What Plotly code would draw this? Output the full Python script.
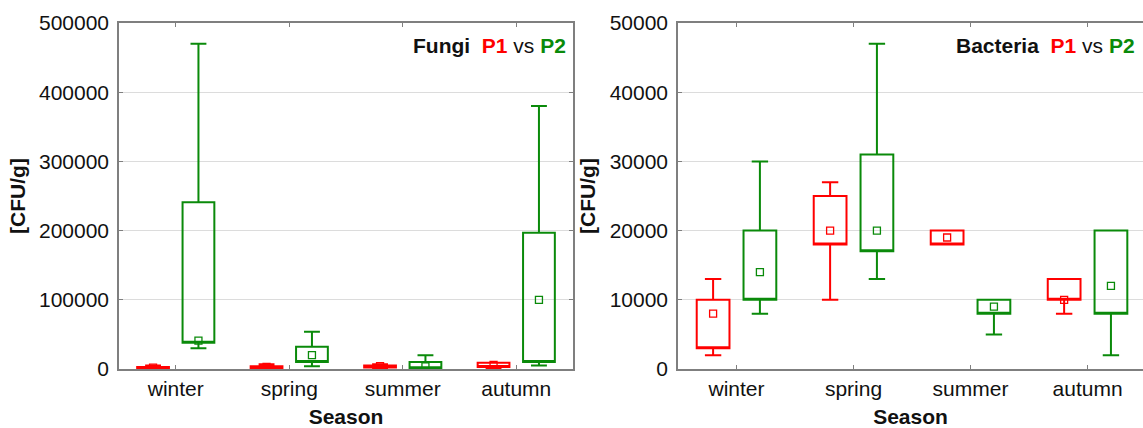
import plotly.graph_objects as go

seasons = ["winter", "spring", "summer", "autumn"]

# Fungi  (lower whisker, Q1, Q3, upper whisker, mean)
fungi_p1_low = [0, 0, 1000, 1000]
fungi_p1_q1 = [500, 1000, 2000, 3000]
fungi_p1_q3 = [3000, 4000, 5000, 9000]
fungi_p1_high = [5000, 7000, 7000, 9000]
fungi_p1_mean = [2000, 3000, 4000, 6000]

fungi_p2_low = [30000, 4000, 0, 5000]
fungi_p2_q1 = [38000, 10000, 1000, 10000]
fungi_p2_q3 = [241000, 32000, 10000, 197000]
fungi_p2_high = [470000, 54000, 20000, 380000]
fungi_p2_mean = [41000, 20000, 4000, 100000]

# Bacteria
bact_p1_low = [2000, 10000, 18000, 8000]
bact_p1_q1 = [3000, 18000, 18000, 10000]
bact_p1_q3 = [10000, 25000, 20000, 13000]
bact_p1_high = [13000, 27000, 20000, 13000]
bact_p1_mean = [8000, 20000, 19000, 10000]

bact_p2_low = [8000, 13000, 5000, 2000]
bact_p2_q1 = [10000, 17000, 8000, 8000]
bact_p2_q3 = [20000, 31000, 10000, 20000]
bact_p2_high = [30000, 47000, 10000, 20000]
bact_p2_mean = [14000, 20000, 9000, 12000]

fungi_ticks = [0, 100000, 200000, 300000, 400000, 500000]
bact_ticks = [0, 10000, 20000, 30000, 40000, 50000]

RED = "#ff0000"
GREEN = "#0a8a0a"
OFF = 0.2
BW = 0.28
FONT = "Liberation Sans, Arial, sans-serif"

fig = go.Figure()

def add_group(low, q1, q3, high, mean, color, offset, xa, ya):
    xs = [i + offset for i in range(len(seasons))]
    fig.add_trace(go.Box(
        x=xs, q1=q1, median=q1, q3=q3, lowerfence=low, upperfence=high,
        width=BW, whiskerwidth=0.5, fillcolor="rgba(0,0,0,0)",
        line=dict(color=color, width=2), boxpoints=False,
        xaxis=xa, yaxis=ya, showlegend=False, hoverinfo="skip"))
    fig.add_trace(go.Scatter(
        x=xs, y=mean, mode="markers",
        marker=dict(symbol="square-open", size=7, color=color, line=dict(width=1.3, color=color)),
        xaxis=xa, yaxis=ya, showlegend=False, hoverinfo="skip"))

add_group(fungi_p1_low, fungi_p1_q1, fungi_p1_q3, fungi_p1_high, fungi_p1_mean, RED, -OFF, "x", "y")
add_group(fungi_p2_low, fungi_p2_q1, fungi_p2_q3, fungi_p2_high, fungi_p2_mean, GREEN, OFF, "x", "y")
add_group(bact_p1_low, bact_p1_q1, bact_p1_q3, bact_p1_high, bact_p1_mean, RED, -OFF, "x2", "y2")
add_group(bact_p2_low, bact_p2_q1, bact_p2_q3, bact_p2_high, bact_p2_mean, GREEN, OFF, "x2", "y2")

axcol = "#7f7f7f"
tickfont = dict(family=FONT, size=21, color="#111111")
titlefont = dict(family=FONT, size=21, color="#111111")

def xaxis(domain, rng, anchor):
    return dict(domain=domain, range=rng, anchor=anchor,
                tickmode="array", tickvals=list(range(len(seasons))), ticktext=seasons,
                ticks="inside", ticklen=4, tickcolor=axcol,
                showline=True, linecolor=axcol, linewidth=1.5, mirror="ticks",
                showgrid=False, zeroline=False, tickfont=tickfont,
                title=dict(text="<b>Season</b>", font=titlefont, standoff=10))

def yaxis(rng, ticks, anchor, mirror):
    return dict(domain=[0, 1], range=rng, anchor=anchor,
                tickmode="array", tickvals=ticks, ticktext=[str(t) for t in ticks],
                ticks="inside", ticklen=4, tickcolor=axcol, ticklabelstandoff=4,
                showline=True, linecolor=axcol, linewidth=1.5, mirror=mirror,
                showgrid=True, gridcolor="#dcdcdc", gridwidth=1, zeroline=False,
                tickfont=tickfont,
                title=dict(text="<b>[CFU/g]</b>", font=titlefont, standoff=8))

fig.update_layout(
    width=1143, height=428,
    margin=dict(l=0, r=0, t=23, b=59, autoexpand=False),
    paper_bgcolor="white", plot_bgcolor="white",
    font=dict(family=FONT),
    xaxis=xaxis([119 / 1143, 573 / 1143], [-0.5, 3.5], "y"),
    yaxis=yaxis([0, 500000], fungi_ticks, "x", "ticks"),
    xaxis2=xaxis([678 / 1143, 1.0], [-0.5, 3.474], "y2"),
    yaxis2=yaxis([0, 50000], bact_ticks, "x2", False),
)

def label(name, xpaper):
    fig.add_annotation(
        text=f"<b>{name}</b>&nbsp; <b><span style='color:{RED}'>P1</span></b> vs <b><span style='color:{GREEN}'>P2</span></b>",
        xref="paper", yref="paper", x=xpaper, y=(369 - 45) / 346, xanchor="right", yanchor="middle",
        showarrow=False, font=dict(family=FONT, size=21, color="#111111"))

label("Fungi", 568 / 1143)
label("Bacteria", 1137 / 1143)

fig.write_html("out.html", config={"displayModeBar": False},
               post_script="document.body.style.margin='0';document.body.style.overflow='hidden';")
